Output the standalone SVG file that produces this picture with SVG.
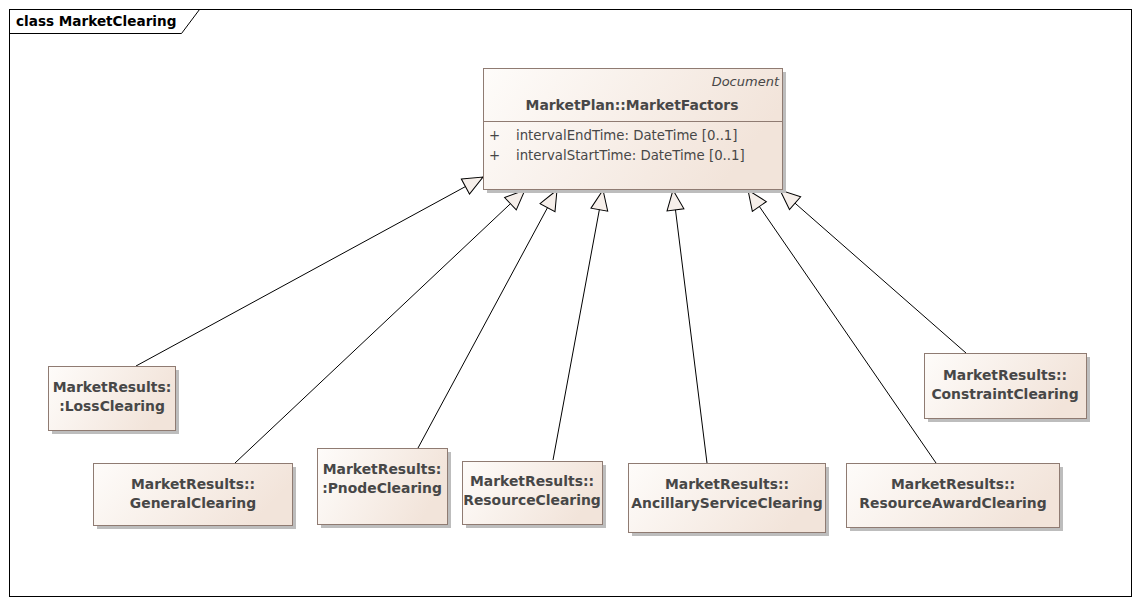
<svg xmlns="http://www.w3.org/2000/svg" width="1139" height="603" viewBox="0 0 1139 603">
<style>
.lbl{font-family:"DejaVu Sans",sans-serif;font-weight:bold;font-size:13.9px;fill:#474747;text-anchor:middle}
.attr{font-family:"DejaVu Sans",sans-serif;font-size:13.3px;fill:#474747}
.box{fill:url(#g);stroke:#8f7b72;stroke-width:1}
.sh{fill:#bdbdbd}
.conn{stroke:#000;stroke-width:1;fill:none;marker-end:url(#gen)}
</style>
<defs>
<linearGradient id="g" x1="0" y1="0" x2="1" y2="0.3">
<stop offset="0" stop-color="#fefcfa"/>
<stop offset="1" stop-color="#f2e4da"/>
</linearGradient>
<marker id="gen" markerUnits="userSpaceOnUse" viewBox="0 0 22 20" refX="21" refY="10" markerWidth="22" markerHeight="20" orient="auto">
<path d="M1,1.5 L21,10 L1,18.5 Z" fill="#f6efea" stroke="#000" stroke-width="1"/>
</marker>
</defs>
<rect width="1139" height="603" fill="#fff"/>
<g id="frame">
<rect x="9.5" y="9.5" width="1122" height="587" fill="none" stroke="#000"/>
<path d="M9.5,33.5 H181.5 L199.5,9.5" fill="none" stroke="#000"/>
<text x="16" y="26" style="font-family:'DejaVu Sans',sans-serif;font-weight:bold;font-size:13.6px;fill:#000">class MarketClearing</text>
</g>
<g id="connectors">
<path class="conn" d="M136,366 L483,177"/>
<path class="conn" d="M235,463 L525,190"/>
<path class="conn" d="M418,448 L557,190"/>
<path class="conn" d="M553,460 L603,190"/>
<path class="conn" d="M707,463 L673,190"/>
<path class="conn" d="M936,463 L748,190"/>
<path class="conn" d="M966,353 L780,190"/>
</g>
<g id="MarketFactors">
<rect class="sh" x="487" y="72" width="299" height="121"/>
<rect class="box" x="483.5" y="68.5" width="299" height="121"/>
<line x1="483.5" y1="121.5" x2="782.5" y2="121.5" stroke="#8f7b72"/>
<text x="779" y="86" style="font-family:'DejaVu Sans',sans-serif;font-style:italic;font-size:13px;fill:#474747;text-anchor:end">Document</text>
<text class="lbl" x="632" y="110">MarketPlan::MarketFactors</text>
<text class="attr" x="489" y="140">+</text>
<text class="attr" x="516" y="140">intervalEndTime: DateTime [0..1]</text>
<text class="attr" x="489" y="160">+</text>
<text class="attr" x="516" y="160">intervalStartTime: DateTime [0..1]</text>
</g>
<g id="LossClearing">
<rect class="sh" x="52" y="370" width="127" height="64"/>
<rect class="box" x="48.5" y="366.5" width="127" height="64"/>
<text class="lbl" x="112" y="392">MarketResults:</text>
<text class="lbl" x="112" y="411">:LossClearing</text>
</g>
<g id="GeneralClearing">
<rect class="sh" x="97" y="467" width="199" height="62"/>
<rect class="box" x="93.5" y="463.5" width="199" height="62"/>
<text class="lbl" x="193" y="489">MarketResults::</text>
<text class="lbl" x="193" y="508">GeneralClearing</text>
</g>
<g id="PnodeClearing">
<rect class="sh" x="321" y="452" width="130" height="76"/>
<rect class="box" x="317.5" y="448.5" width="130" height="76"/>
<text class="lbl" x="382" y="474">MarketResults:</text>
<text class="lbl" x="382" y="493">:PnodeClearing</text>
</g>
<g id="ResourceClearing">
<rect class="sh" x="466" y="465" width="140" height="63"/>
<rect class="box" x="462.5" y="461.5" width="140" height="63"/>
<text class="lbl" x="532" y="486">MarketResults::</text>
<text class="lbl" x="532" y="505">ResourceClearing</text>
</g>
<g id="AncillaryServiceClearing">
<rect class="sh" x="632" y="467" width="197" height="69"/>
<rect class="box" x="628.5" y="463.5" width="197" height="69"/>
<text class="lbl" x="727" y="489">MarketResults::</text>
<text class="lbl" x="727" y="508">AncillaryServiceClearing</text>
</g>
<g id="ResourceAwardClearing">
<rect class="sh" x="850" y="467" width="213" height="64"/>
<rect class="box" x="846.5" y="463.5" width="213" height="64"/>
<text class="lbl" x="953" y="489">MarketResults::</text>
<text class="lbl" x="953" y="508">ResourceAwardClearing</text>
</g>
<g id="ConstraintClearing">
<rect class="sh" x="928" y="357" width="162" height="65"/>
<rect class="box" x="924.5" y="353.5" width="162" height="65"/>
<text class="lbl" x="1005" y="380">MarketResults::</text>
<text class="lbl" x="1005" y="399">ConstraintClearing</text>
</g>
</svg>
